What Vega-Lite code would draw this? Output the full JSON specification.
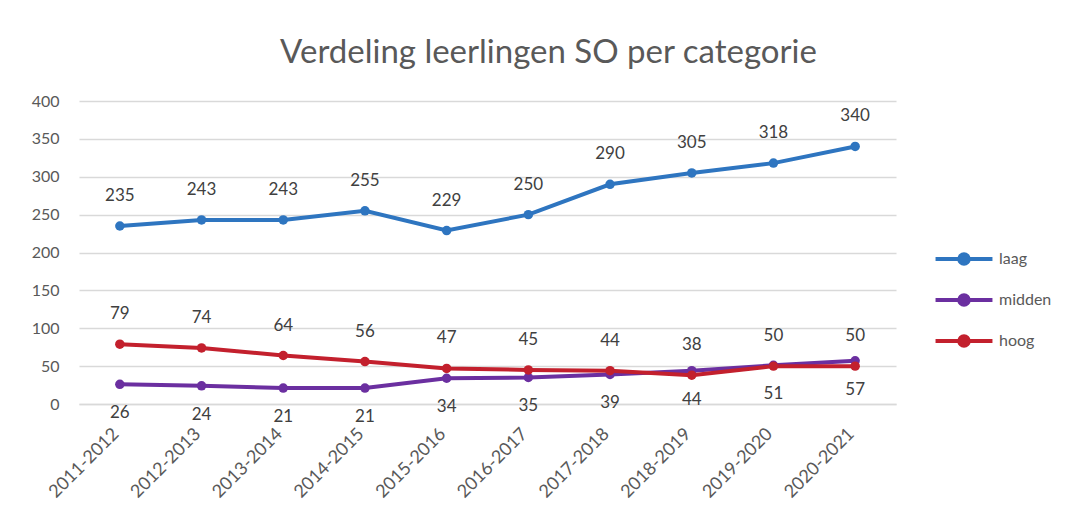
{
  "$schema": "https://vega.github.io/schema/vega-lite/v6.json",
  "autosize": "none",
  "width": 817,
  "height": 303,
  "padding": {"left": 79, "top": 101, "right": 176, "bottom": 116},
  "background": "white",
  "config": {
    "font": "Lato",
    "view": {"stroke": null},
    "axis": {"labelFont": "Lato", "labelColor": "#595959", "labelFontSize": 16, "ticks": false, "grid": false}
  },
  "title": {
    "text": "Verdeling leerlingen SO per categorie",
    "font": "Lato",
    "fontSize": 33,
    "fontWeight": "normal",
    "color": "#595959",
    "anchor": "middle",
    "dx": 61,
    "offset": 23
  },
  "data": {
    "values": [
      {"jaar": "2011-2012", "categorie": "laag", "aantal": 235},
      {"jaar": "2012-2013", "categorie": "laag", "aantal": 243},
      {"jaar": "2013-2014", "categorie": "laag", "aantal": 243},
      {"jaar": "2014-2015", "categorie": "laag", "aantal": 255},
      {"jaar": "2015-2016", "categorie": "laag", "aantal": 229},
      {"jaar": "2016-2017", "categorie": "laag", "aantal": 250},
      {"jaar": "2017-2018", "categorie": "laag", "aantal": 290},
      {"jaar": "2018-2019", "categorie": "laag", "aantal": 305},
      {"jaar": "2019-2020", "categorie": "laag", "aantal": 318},
      {"jaar": "2020-2021", "categorie": "laag", "aantal": 340},
      {"jaar": "2011-2012", "categorie": "midden", "aantal": 26},
      {"jaar": "2012-2013", "categorie": "midden", "aantal": 24},
      {"jaar": "2013-2014", "categorie": "midden", "aantal": 21},
      {"jaar": "2014-2015", "categorie": "midden", "aantal": 21},
      {"jaar": "2015-2016", "categorie": "midden", "aantal": 34},
      {"jaar": "2016-2017", "categorie": "midden", "aantal": 35},
      {"jaar": "2017-2018", "categorie": "midden", "aantal": 39},
      {"jaar": "2018-2019", "categorie": "midden", "aantal": 44},
      {"jaar": "2019-2020", "categorie": "midden", "aantal": 51},
      {"jaar": "2020-2021", "categorie": "midden", "aantal": 57},
      {"jaar": "2011-2012", "categorie": "hoog", "aantal": 79},
      {"jaar": "2012-2013", "categorie": "hoog", "aantal": 74},
      {"jaar": "2013-2014", "categorie": "hoog", "aantal": 64},
      {"jaar": "2014-2015", "categorie": "hoog", "aantal": 56},
      {"jaar": "2015-2016", "categorie": "hoog", "aantal": 47},
      {"jaar": "2016-2017", "categorie": "hoog", "aantal": 45},
      {"jaar": "2017-2018", "categorie": "hoog", "aantal": 44},
      {"jaar": "2018-2019", "categorie": "hoog", "aantal": 38},
      {"jaar": "2019-2020", "categorie": "hoog", "aantal": 50},
      {"jaar": "2020-2021", "categorie": "hoog", "aantal": 50}
    ]
  },
  "encoding": {
    "x": {
      "field": "jaar", "type": "ordinal", "title": null,
      "scale": {"type": "point", "padding": 0.5},
      "axis": {"labelAngle": -45, "domain": true, "domainColor": "#d9d9d9", "domainWidth": 1.5, "labelFontSize": 18, "labelPadding": 27, "labelAlign": "right", "labelBaseline": "middle", "labelOffset": -4}
    },
    "y": {
      "field": "aantal", "type": "quantitative", "title": null,
      "scale": {"domain": [0, 400], "nice": false},
      "axis": {"values": [0, 50, 100, 150, 200, 250, 300, 350, 400], "grid": true, "gridColor": "#d9d9d9", "gridWidth": 1.5, "domain": false, "labelPadding": 20}
    },
    "color": {
      "field": "categorie", "type": "nominal",
      "scale": {"domain": ["laag", "midden", "hoog"], "range": ["#2e75c0", "#6b2fa0", "#c3202d"]},
      "legend": {
        "title": null, "orient": "none", "legendX": 867, "legendY": 140, "padding": 0,
        "symbolType": "M-1.8,0L1.8,0M-0.3,0A0.3,0.3,0,1,1,0.3,0A0.3,0.3,0,1,1,-0.3,0Z",
        "symbolSize": 1000, "symbolStrokeWidth": 4, "labelOffset": 17, "rowPadding": 10,
        "labelFontSize": 16, "labelColor": "#595959", "labelFont": "Lato",
        "encode": {"symbols": {"update": {"fill": {"scale": "color", "field": "value"}, "stroke": {"scale": "color", "field": "value"}, "fillOpacity": {"value": 1}}}}
      }
    }
  },
  "layer": [
    {"mark": {"type": "line", "strokeWidth": 4}},
    {"mark": {"type": "point", "filled": true, "size": 90, "opacity": 1}},
    {
      "transform": [{"filter": "datum.categorie !== 'midden'"}],
      "mark": {"type": "text", "dy": -30, "fontSize": 17, "font": "Lato"},
      "encoding": {"text": {"field": "aantal", "type": "quantitative"}, "color": {"value": "#404040"}}
    },
    {
      "transform": [{"filter": "datum.categorie === 'midden'"}],
      "mark": {"type": "text", "dy": 29, "fontSize": 17, "font": "Lato"},
      "encoding": {"text": {"field": "aantal", "type": "quantitative"}, "color": {"value": "#404040"}}
    }
  ]
}
